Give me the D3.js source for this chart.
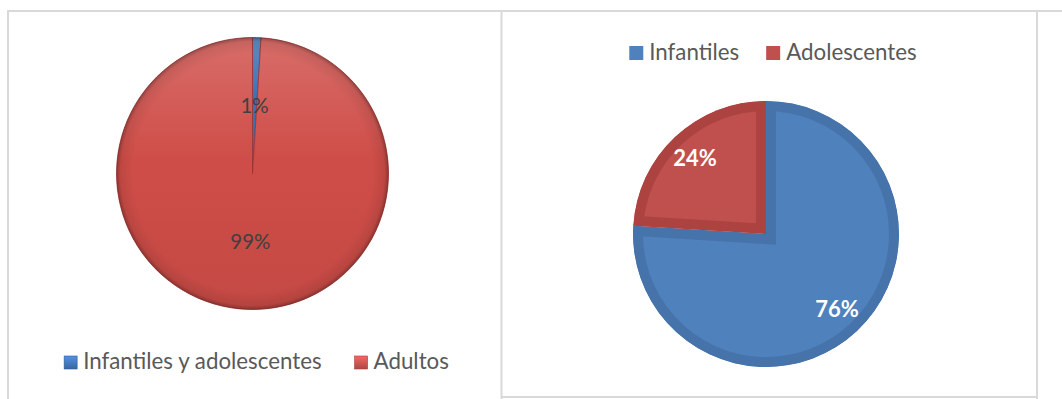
<!DOCTYPE html>
<html><head><meta charset="utf-8">
<script src="https://cdn.jsdelivr.net/npm/d3@7"></script>
<style>body{margin:0;background:#fff}svg{display:block}</style>
</head><body>
<svg id="c" width="1062" height="399"></svg>
<script>
// Data
const leftCategories = ["Infantiles y adolescentes", "Adultos"];
const leftValues = [1, 99];
const leftLabels = ["1%", "99%"];
const rightCategories = ["Infantiles", "Adolescentes"];
const rightValues = [76, 24];
const rightLabels = ["76%", "24%"];

const svg = d3.select("#c");
const defs = svg.append("defs");
const FONT = "Lato, 'Open Sans', sans-serif";

// frames
const frame = svg.append("g").attr("stroke", "#d9d9d9").attr("stroke-width", 2).attr("fill", "none");
frame.append("line").attr("x1", 8).attr("x2", 1062).attr("y1", 11).attr("y2", 11);
frame.append("line").attr("x1", 8).attr("x2", 8).attr("y1", 10).attr("y2", 399);
frame.append("line").attr("x1", 501.5).attr("x2", 501.5).attr("y1", 10).attr("y2", 399);
frame.append("line").attr("x1", 1037).attr("x2", 1037).attr("y1", 10).attr("y2", 399);
frame.append("line").attr("x1", 501).attr("x2", 1037).attr("y1", 397).attr("y2", 397);

// ---------- Left pie (shaded) ----------
const lc = {x: 252.5, y: 173.5, r: 136};
const leftColor = d3.scaleOrdinal().domain(leftCategories).range(["#3f72b3", "#cf4d48"]);

function shadeGrad(id, c) {
  const base = d3.color(c);
  const g = defs.append("linearGradient").attr("id", id).attr("x1", 0).attr("y1", 0).attr("x2", 0).attr("y2", 1);
  g.append("stop").attr("offset", "0%").attr("stop-color", d3.interpolateRgb(base, "#fff")(0.18));
  g.append("stop").attr("offset", "45%").attr("stop-color", base.formatHex());
  g.append("stop").attr("offset", "100%").attr("stop-color", base.darker(0.15).formatHex());
}
shadeGrad("gL0", "#3f72b3");
shadeGrad("gL1", "#cf4d48");
const rim = defs.append("radialGradient").attr("id", "rim").attr("cx", "50%").attr("cy", "50%").attr("r", "50%");
rim.append("stop").attr("offset", "88%").attr("stop-color", "#000").attr("stop-opacity", 0);
rim.append("stop").attr("offset", "97%").attr("stop-color", "#000").attr("stop-opacity", 0.08);
rim.append("stop").attr("offset", "100%").attr("stop-color", "#000").attr("stop-opacity", 0.3);

const leftPie = d3.pie().sort(null).value(d => d)(leftValues);
const leftArc = d3.arc().innerRadius(0).outerRadius(lc.r);
const gl = svg.append("g").attr("transform", `translate(${lc.x},${lc.y})`);
gl.selectAll("path.s").data(leftPie).join("path").attr("class", "s")
  .attr("d", leftArc)
  .attr("fill", (d, i) => `url(#gL${i})`)
  .attr("stroke", (d, i) => i === 0 ? "#2f5a8f" : "#9a3431")
  .attr("stroke-width", 0.8);
gl.append("circle").attr("r", lc.r).attr("fill", "url(#rim)").attr("pointer-events", "none");
const leftLabelArc = d3.arc().innerRadius(lc.r * 0.5).outerRadius(lc.r * 0.5);
gl.selectAll("text.l").data(leftPie).join("text").attr("class", "l")
  .attr("transform", d => `translate(${leftLabelArc.centroid(d)})`)
  .attr("text-anchor", "middle").attr("dy", "0.35em")
  .attr("font-family", FONT).attr("font-size", 20.5).attr("fill", "#404040")
  .text((d, i) => leftLabels[i]);

// ---------- Right pie (flat with inner border) ----------
const rc = {x: 766, y: 234, r: 133};
const rightColor = d3.scaleOrdinal().domain(rightCategories).range(["#4f81bd", "#c0504d"]);
const rightBorder = d3.scaleOrdinal().domain(rightCategories).range(["#4673aa", "#ac4340"]);
const rightPie = d3.pie().sort(null).value(d => d)(rightValues);
const rightArc = d3.arc().innerRadius(0).outerRadius(rc.r);
const gr = svg.append("g").attr("transform", `translate(${rc.x},${rc.y})`);
rightPie.forEach((d, i) => {
  defs.append("clipPath").attr("id", "clipR" + i).append("path").attr("d", rightArc(d));
});
gr.selectAll("path.s").data(rightPie).join("path").attr("class", "s")
  .attr("d", rightArc)
  .attr("clip-path", (d, i) => `url(#clipR${i})`)
  .attr("fill", (d, i) => rightColor(rightCategories[i]))
  .attr("stroke", (d, i) => rightBorder(rightCategories[i]))
  .attr("stroke-width", 20)
  .attr("stroke-linejoin", "miter");
const rightLabelArc = d3.arc().innerRadius(rc.r * 0.78).outerRadius(rc.r * 0.78);
gr.selectAll("text.l").data(rightPie).join("text").attr("class", "l")
  .attr("transform", d => `translate(${rightLabelArc.centroid(d)})`)
  .attr("text-anchor", "middle").attr("dy", "0.35em")
  .attr("font-family", FONT).attr("font-weight", "bold").attr("font-size", 22).attr("fill", "#ffffff")
  .text((d, i) => rightLabels[i]);

// ---------- Legends ----------
["#3f72b3", "#c0504d"].forEach((c, i) => {
  const g = defs.append("linearGradient").attr("id", "gM" + i).attr("x1", 0).attr("y1", 0).attr("x2", 0).attr("y2", 1);
  g.append("stop").attr("offset", "0%").attr("stop-color", d3.color(c).brighter(0.7));
  g.append("stop").attr("offset", "100%").attr("stop-color", d3.color(c).darker(0.3));
});
function legend(cats, colorFn, cx, baseline, sw, gap, fs, shaded) {
  const g = svg.append("g");
  const items = g.selectAll("g").data(cats).join("g");
  items.append("rect").attr("width", sw).attr("height", sw)
    .attr("y", baseline - sw)
    .attr("fill", (d, i) => shaded ? `url(#gM${i})` : colorFn(d))
    .attr("stroke", (d, i) => shaded ? d3.color(colorFn(d)).darker(0.6) : "none")
    .attr("stroke-width", 0.6);
  items.append("text").attr("x", sw + 6).attr("y", baseline)
    .attr("font-family", FONT).attr("font-size", fs).attr("fill", "#595959").text(d => d);
  let x = 0;
  items.each(function() {
    const w = d3.select(this).select("text").node().getComputedTextLength();
    d3.select(this).attr("transform", `translate(${x},0)`);
    x += sw + 6 + w + gap;
  });
  const total = x - gap;
  g.attr("transform", `translate(${cx - total / 2},0)`);
}
legend(leftCategories, leftColor, 256.5, 369, 13, 33, 22.3, true);
legend(rightCategories, rightColor, 773, 60, 14, 27, 22.3, false);
</script>
</body></html>
